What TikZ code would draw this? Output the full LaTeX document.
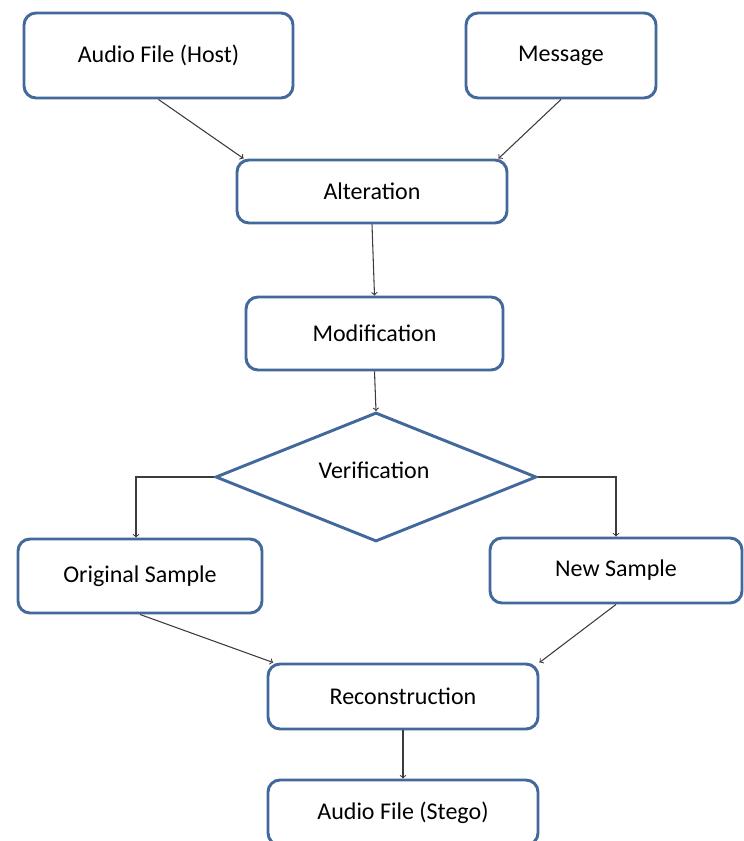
\documentclass[tikz,border=0pt]{standalone}
\usepackage{fontspec}
\setmainfont{Carlito}
\usetikzlibrary{shapes.geometric}
\definecolor{boxblue}{RGB}{66,104,156}
\definecolor{arrowgrey}{RGB}{60,60,60}
\tikzset{
  stepbox/.style={draw=boxblue,line width=2.2pt,rounded corners=9pt,fill=white,
    font=\fontsize{18}{20}\selectfont,inner sep=2pt},
  checkbox/.style={draw=boxblue,line width=2.2pt,diamond,fill=white,
    font=\fontsize{18}{20}\selectfont,inner sep=0pt},
  flow/.style={draw=arrowgrey,line width=0.8pt,->}
}
\begin{document}
\begin{tikzpicture}[x=0.75pt,y=-0.75pt]
\useasboundingbox (0,0) rectangle (743,841);
% boxes
\node[stepbox,minimum width=201.75pt,minimum height=63.75pt] (host) at (158.5,55.5) {Audio File (Host)};
\node[stepbox,minimum width=142.5pt,minimum height=63.75pt] (msg) at (561,55.5) {Message};
\node[stepbox,minimum width=202.5pt,minimum height=47.25pt] (alter) at (372,191.5) {Alteration};
\node[stepbox,minimum width=192.75pt,minimum height=54.75pt] (modif) at (374.5,333.5) {Modification};
\node[checkbox,minimum width=240.75pt,minimum height=96.75pt] (verif) at (376,477) {};
\node[font=\fontsize{18}{20}\selectfont] (veriftext) at (374,470) {Verification};
\node[stepbox,minimum width=183pt,minimum height=55.5pt] (orig) at (140,576) {Original Sample};
\node[stepbox,minimum width=189pt,minimum height=48.75pt] (new) at (616,570.5) {New Sample};
\node[stepbox,minimum width=202.5pt,minimum height=48.75pt] (recon) at (403,696.5) {Reconstruction};
\node[stepbox,minimum width=202.5pt,minimum height=48.75pt] (stego) at (403,812.5) {Audio File (Stego)};
% connectors
\draw[flow] (host.south) -- ([xshift=6pt]alter.north west);
\draw[flow] (msg.south) -- ([xshift=-7.5pt]alter.north east);
\draw[flow] (alter.south) -- (modif.north);
\draw[flow] (modif.south) -- (verif.north);
\draw[flow] (verif.west) -| ([xshift=-3pt]orig.north);
\draw[flow] (verif.east) -| (new.north);
\draw[flow] (orig.south) -- ([xshift=5pt]recon.north west);
\draw[flow] (new.south) -- (recon.north east);
\draw[flow] (recon.south) -- (stego.north);
\end{tikzpicture}
\end{document}
